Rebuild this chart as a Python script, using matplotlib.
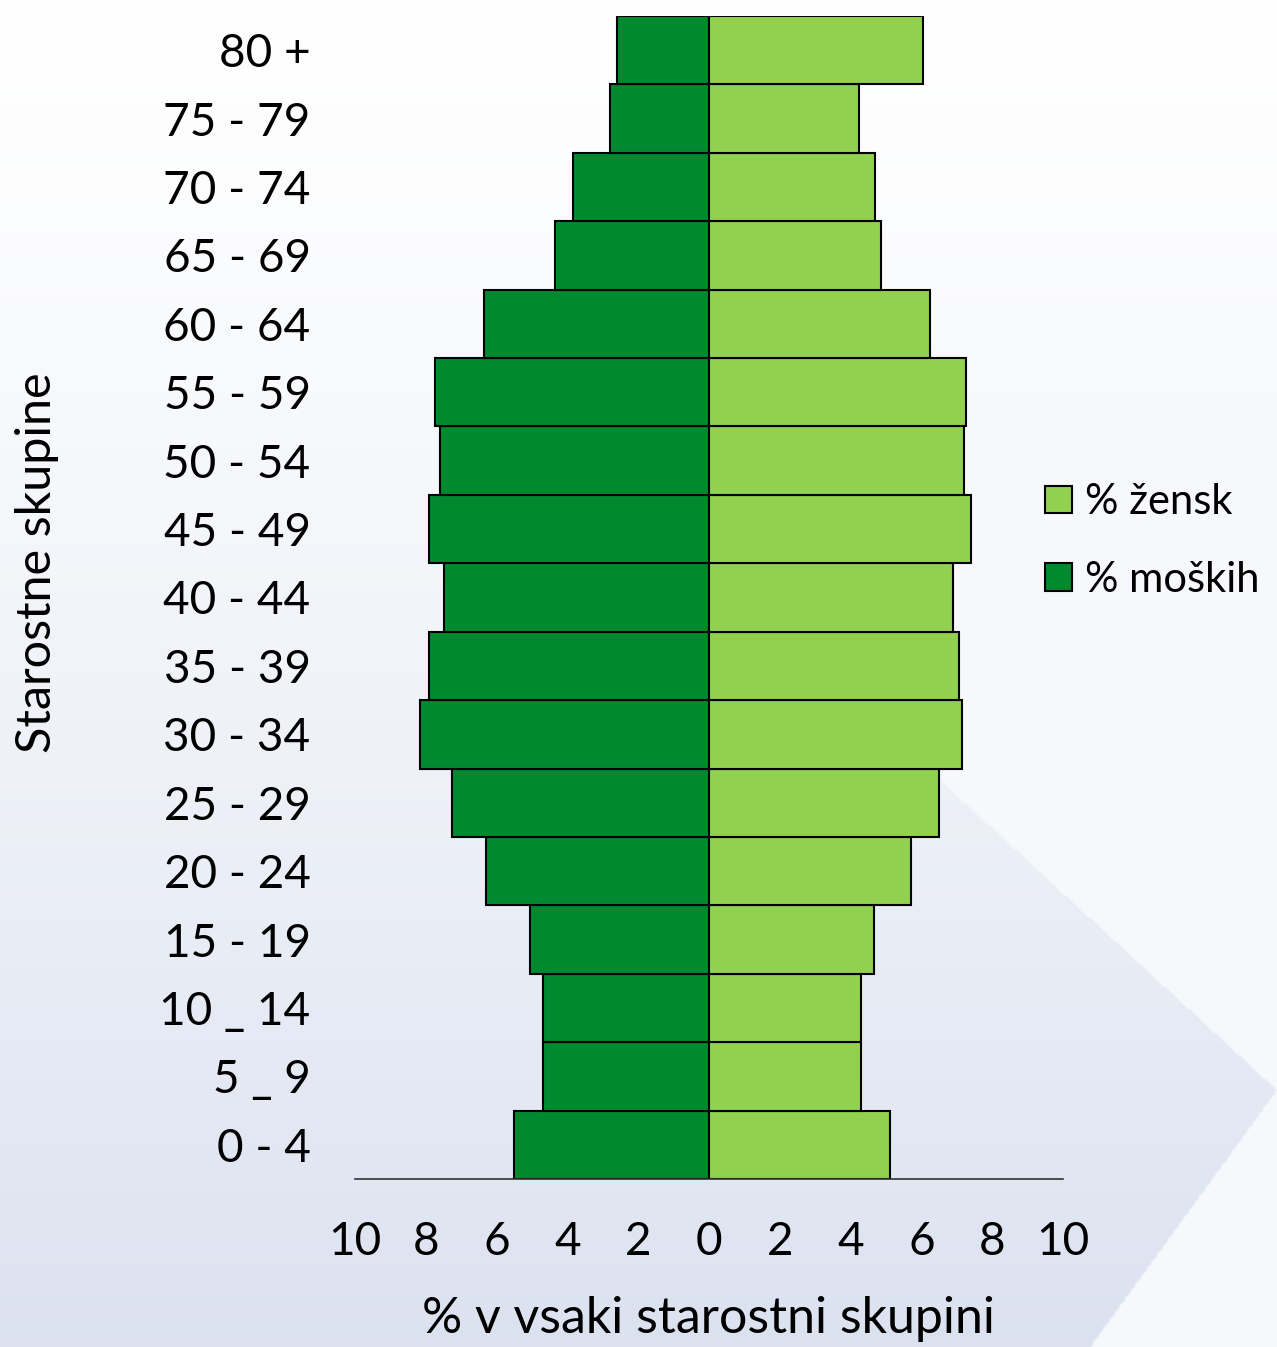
import numpy as np
import matplotlib
matplotlib.use('Agg')
import matplotlib.pyplot as plt
from matplotlib.patches import Patch

# age groups bottom to top
groups = ['0 - 4', '5 _ 9', '10 _ 14', '15 - 19', '20 - 24', '25 - 29',
          '30 - 34', '35 - 39', '40 - 44', '45 - 49', '50 - 54', '55 - 59',
          '60 - 64', '65 - 69', '70 - 74', '75 - 79', '80 +']
male = [5.5, 4.7, 4.7, 5.05, 6.3, 7.25,
        8.15, 7.9, 7.5, 7.9, 7.6, 7.75,
        6.35, 4.35, 3.85, 2.8, 2.6]
female = [5.1, 4.3, 4.3, 4.65, 5.7, 6.5,
          7.15, 7.05, 6.9, 7.4, 7.2, 7.25,
          6.25, 4.85, 4.7, 4.25, 6.05]
xticks = [-10, -8, -6, -4, -2, 0, 2, 4, 6, 8, 10]

c_female = '#92D050'
c_male = '#00892F'
plt.rcParams['font.family'] = ['Lato', 'DejaVu Sans']

W, H = 1277, 1347
fig = plt.figure(figsize=(W / 100, H / 100), dpi=100)

# background: vertical gradient, lighter chevron wedge at the right
bg = fig.add_axes([0, 0, 1, 1], zorder=-10)
px, py = np.meshgrid(np.arange(0, W, 2), np.arange(0, H, 2))
t = (py / H) ** 1.3
upper = py < 780 + (px - 940) * (310 / 337)
lower = py > H - (px - 1090) * (257 / 187)
light = upper | lower
t = np.where(light, np.minimum(t, 0.22), t)
top = np.array([1.0, 1.0, 1.0])
bot = np.array([0.86, 0.885, 0.94])
img = top + (bot - top) * t[..., None]
bg.imshow(img, aspect='auto', extent=[0, W, H, 0], interpolation='bilinear')
bg.set_xlim(0, W)
bg.set_ylim(H, 0)
bg.axis('off')

ax = fig.add_axes([355 / W, 1 - 1179 / H, 708 / W, (1179 - 16) / H])
ax.set_facecolor('none')
y = np.arange(len(groups))
ax.barh(y, [-m for m in male], height=1.0, color=c_male, edgecolor='black', linewidth=1.5)
ax.barh(y, female, height=1.0, color=c_female, edgecolor='black', linewidth=1.5)

ax.set_xlim(-10, 10)
ax.set_ylim(-0.5, len(groups) - 0.5)
ax.set_xticks(xticks)
ax.set_xticklabels([str(abs(v)) for v in xticks], fontsize=33)
ax.set_yticks(y)
ax.set_yticklabels(groups, fontsize=33)
ax.tick_params(axis='both', length=0)
ax.tick_params(axis='x', pad=30)
ax.tick_params(axis='y', pad=32)
for s in ['top', 'right', 'left']:
    ax.spines[s].set_visible(False)
ax.spines['bottom'].set_linewidth(1.2)
ax.spines['bottom'].set_color('#333333')

ax.set_xlabel('% v vsaki starostni skupini', fontsize=36, labelpad=24)
fig.text(37 / W, 1 - 563 / H, 'Starostne skupine', rotation=90, fontsize=35,
         ha='center', va='center')

handles = [Patch(facecolor=c_female, edgecolor='black', linewidth=1.5),
           Patch(facecolor=c_male, edgecolor='black', linewidth=1.5)]
fig.legend(handles, ['% žensk', '% moških'], loc='center left',
           bbox_to_anchor=(1045 / W, 1 - 541 / H), frameon=False, fontsize=30,
           handlelength=0.65, handleheight=0.65, handletextpad=0.3, labelspacing=0.95,
           borderpad=0, borderaxespad=0)

fig.savefig('out.png', dpi=100)
